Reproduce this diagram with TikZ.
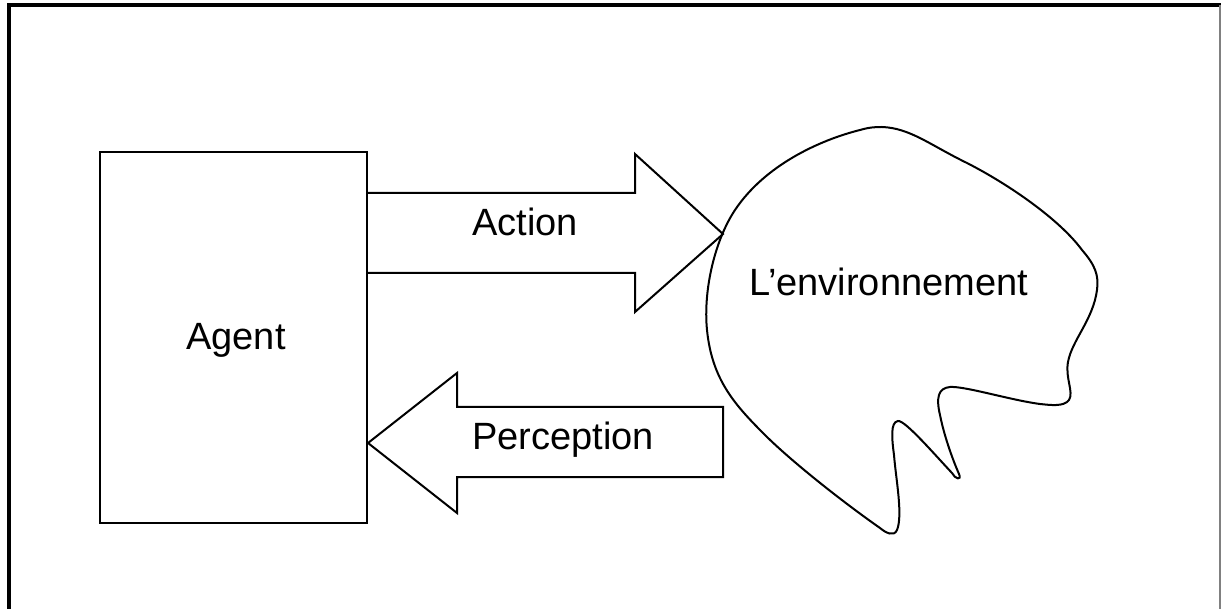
\documentclass[tikz,border=0pt]{standalone}
\usepackage{fontspec}
\setmainfont{Liberation Sans}
\begin{document}
\begin{tikzpicture}[x=0.75pt,y=-0.75pt,
  line join=miter,
  outline/.style={draw=black,line width=1.5pt},
  lbl/.style={font=\fontsize{28.5}{32}\selectfont,inner sep=0pt},
  agentbox/.style={outline,minimum width=200.25pt,minimum height=278.25pt,inner sep=0pt,font=\fontsize{28.5}{32}\selectfont}]
\useasboundingbox (0,0) rectangle (1221,609);
% frame
\draw[line width=3pt,black] (9,609) -- (9,5.5) -- (1221,5.5);
\draw[line width=1pt,gray] (1220,5.5) -- (1220,609);
% agent
\node[agentbox] (agent) at (233.5,337.5) {};
\node[lbl] (agentlbl) at (236,340) {Agent};
% action arrow
\coordinate (aTip) at (723,234);
\draw[outline] (agent.east |- 0,193) -- (635,193) -- (635,154) -- (aTip) -- (635,312) -- (635,273) -- (agent.east |- 0,273);
\node[lbl] (action) at (525,222) {Action};
% perception arrow
\coordinate (pTip) at (agent.east |- 0,443);
\draw[outline] (pTip) -- (457,373) -- (457,407) -- (723,407) -- (723,477) -- (457,477) -- (457,513) -- cycle;
\node[lbl] (perception) at (563,440) {Perception};
% environment blob
\draw[outline] (882,127)
  .. controls (910,128) and (930,145) .. (967,163)
  .. controls (1010,185) and (1060,220) .. (1082,250)
  .. controls (1095,265) and (1099,275) .. (1097,290)
  .. controls (1093,320) and (1072,340) .. (1068,362)
  .. controls (1065,378) and (1074,392) .. (1069,400)
  .. controls (1064,407) and (1050,405) .. (1040,404)
  .. controls (1010,400) and (965,386) .. (950,387)
  .. controls (938,388) and (936,398) .. (940,415)
  .. controls (945,440) and (955,465) .. (959,474)
  .. controls (962,481) and (955,479) .. (952,473)
  .. controls (935,455) and (905,420) .. (898,421)
  .. controls (890,422) and (892,440) .. (894,455)
  .. controls (896,480) and (903,515) .. (897,530)
  .. controls (894,537) and (886,533) .. (880,528)
  .. controls (840,500) and (790,460) .. (765,435)
  .. controls (735,405) and (712,380) .. (707,330)
  .. controls (703,290) and (715,240) .. (735,210)
  .. controls (765,165) and (820,140) .. (860,130)
  .. controls (870,127) and (877,127) .. (882,127) -- cycle;
\node[lbl] (env) at (888.5,282) {L’environnement};
\end{tikzpicture}
\end{document}
